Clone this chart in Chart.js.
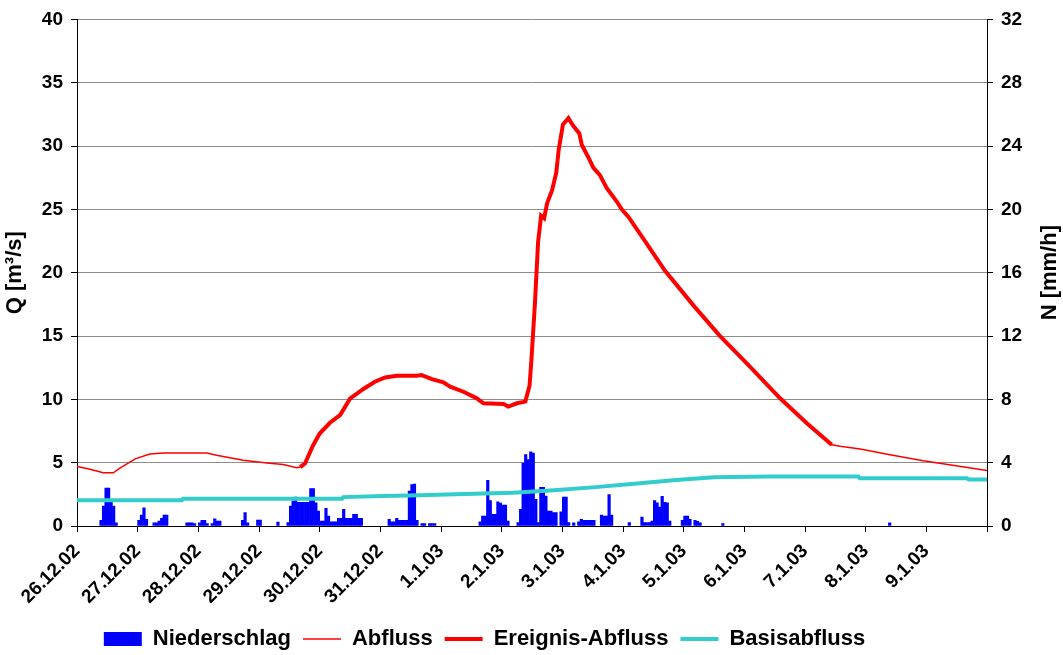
<!DOCTYPE html>
<html>
<head>
<meta charset="utf-8">
<script src="https://cdn.jsdelivr.net/npm/chart.js@4.4.1/dist/chart.umd.min.js"></script>
<style>
  html, body { margin: 0; padding: 0; background: #fff; }
  #wrap { width: 1063px; height: 655px; }
</style>
</head>
<body>
<div id="wrap"><canvas id="chart" width="1063" height="655"></canvas></div>
<script>
// x-Achse: Tage ab 26.12.02 00:00
const dayLabels = ['26.12.02', '27.12.02', '28.12.02', '29.12.02', '30.12.02', '31.12.02',
    '1.1.03', '2.1.03', '3.1.03', '4.1.03', '5.1.03', '6.1.03', '7.1.03', '8.1.03', '9.1.03', ''];

// Abfluss Q [m³/s]
const flowDays = [0, 0.2, 0.43, 0.6, 0.7, 0.96, 1.2, 1.42, 2.14, 2.3,
    2.74, 3.13, 3.4, 3.62, 3.68, 3.76, 3.87, 3.9, 4.0, 4.17,
    4.34, 4.5, 4.72, 4.91, 5.08, 5.27, 5.6, 5.68, 5.85, 6.04,
    6.15, 6.37, 6.59, 6.7, 7.03, 7.11, 7.25, 7.39, 7.46, 7.49,
    7.55, 7.6, 7.65, 7.7, 7.75, 7.83, 7.9, 7.94, 8.01, 8.1,
    8.18, 8.28, 8.32, 8.43, 8.51, 8.62, 8.73, 8.9, 8.98, 9.09,
    9.34, 9.69, 10.16, 10.6, 11.04, 11.59, 12.03, 12.44, 12.58, 12.91,
    13.4, 13.95, 15];
const flowQ = [4.7, 4.5, 4.2, 4.2, 4.55, 5.3, 5.68, 5.76, 5.76, 5.58,
    5.19, 4.98, 4.85, 4.6, 4.65, 4.95, 6.15, 6.44, 7.3, 8.15,
    8.78, 10.05, 10.82, 11.39, 11.73, 11.87, 11.87, 11.92, 11.6, 11.34,
    11.0, 10.6, 10.08, 9.69, 9.64, 9.43, 9.69, 9.82, 11.1, 13.1,
    17.7, 22.4, 24.5, 24.3, 25.5, 26.5, 27.9, 29.7, 31.7, 32.2,
    31.6, 31.0, 30.1, 29.1, 28.3, 27.7, 26.7, 25.6, 25.0, 24.4,
    22.66, 20.17, 17.42, 15.0, 12.84, 10.08, 8.12, 6.42, 6.29, 6.08,
    5.63, 5.16, 4.38];

// Ereignis-Abfluss = Abfluss innerhalb des Ereigniszeitraums
const eventStart = 3.66;
const eventEnd = 12.45;

// Basisabfluss Q [m³/s]
const baseDays = [0, 1.73, 1.75, 4.37, 4.39, 5.05, 5.66, 6.23, 7.19, 7.8, 8.5,
    9.28, 9.83, 10.1, 10.5, 11.4, 12.88, 12.9, 14.67, 14.7, 15];
const baseQ = [2.04, 2.04, 2.15, 2.15, 2.28, 2.36, 2.43, 2.5, 2.62, 2.8, 3.05,
    3.38, 3.61, 3.72, 3.84, 3.9, 3.9, 3.77, 3.77, 3.67, 3.67];

// Niederschlag N [mm/h], Stunde ab 26.12.02 00:00
const rainHours = [9, 10, 11, 12, 13, 14, 15,
    24, 25, 26, 27, 30, 31, 32, 33, 34, 35,
    43, 44, 45, 46, 48, 49, 50, 51, 53, 54, 55, 56,
    65, 66, 67, 71, 72, 79,
    83, 84, 85, 86, 87, 88, 89, 90, 91, 92, 93, 94, 95, 96, 97, 98, 99,
    100, 101, 102, 103, 104, 105, 106, 107, 108, 109, 110, 111, 112,
    123, 124, 125, 126, 127, 128, 129, 130, 131, 132, 133, 134, 136, 137, 139, 140, 141,
    159, 160, 161, 162, 163, 164, 165, 166, 167, 168, 169, 170,
    174, 175, 176, 177, 178, 179, 180, 181, 182, 183, 184, 185, 186, 187, 188, 189,
    191, 192, 193, 194, 196, 198, 199, 200, 201, 202, 203, 204,
    207, 208, 209, 210, 211, 218, 223,
    224, 225, 226, 227, 228, 229, 230, 231, 232, 233, 234,
    239, 240, 241, 242, 244, 245, 246, 255, 321];
const rainN = [0.36, 1.26, 2.4, 2.4, 1.57, 1.26, 0.2,
    0.36, 0.69, 1.15, 0.42, 0.2, 0.2, 0.31, 0.48, 0.69, 0.69,
    0.2, 0.2, 0.2, 0.15, 0.2, 0.36, 0.36, 0.15, 0.15, 0.46, 0.31, 0.31,
    0.36, 0.84, 0.2, 0.38, 0.38, 0.25,
    0.21, 1.26, 1.57, 1.82, 1.5, 1.5, 1.5, 1.5, 1.5, 2.37, 2.37, 1.47, 0.94, 0.31, 0.31, 1.11, 0.63,
    0.27, 0.27, 0.27, 0.48, 0.48, 1.05, 0.48, 0.48, 0.48, 0.73, 0.73, 0.48, 0.48,
    0.42, 0.27, 0.27, 0.48, 0.36, 0.36, 0.36, 0.36, 2.2, 2.62, 2.65, 0.36, 0.15, 0.15, 0.15, 0.15, 0.15,
    0.27, 0.63, 0.63, 2.89, 1.61, 0.73, 0.73, 1.53, 1.45, 1.32, 1.32, 0.31,
    0.21, 1.05, 3.98, 4.51, 4.2, 4.68, 4.6, 1.68, 0.21, 2.45, 2.45, 1.89, 0.94, 0.94, 0.84, 0.84,
    0.9, 1.82, 1.82, 0.21, 0.2, 0.27, 0.42, 0.36, 0.36, 0.36, 0.36, 0.36,
    0.69, 0.63, 0.63, 1.99, 0.69, 0.21, 0.57,
    0.21, 0.21, 0.21, 0.31, 1.61, 1.47, 1.2, 1.88, 1.5, 1.47, 0.31,
    0.36, 0.63, 0.63, 0.42, 0.36, 0.3, 0.2, 0.15, 0.2];

const FONT = '"Liberation Sans", Arial, sans-serif';

function points(xs, ys) {
    return xs.map((x, i) => ({ x: x, y: ys[i] }));
}

const flowPoints = points(flowDays, flowQ);
const eventPoints = flowPoints.filter(p => p.x >= eventStart && p.x <= eventEnd);
const rainPoints = rainHours.map((h, i) => ({ x: (h + 0.5) / 24, y: rainN[i] }));

// rechter Achsentitel, von unten nach oben gelesen wie in Excel
const rightTitle = {
    id: 'rightTitle',
    afterDraw(chart) {
        const ctx = chart.ctx;
        const s = chart.scales.yN;
        ctx.save();
        ctx.translate(s.right - 13, (s.top + s.bottom) / 2);
        ctx.rotate(-Math.PI / 2);
        ctx.font = 'bold 22px ' + FONT;
        ctx.fillStyle = '#000';
        ctx.textAlign = 'center';
        ctx.textBaseline = 'middle';
        ctx.fillText('N [mm/h]', 0, 0);
        ctx.restore();
    }
};

// Legende sitzt im Original etwas links von der Mitte und tiefer
const legendShift = {
    id: 'legendShift',
    afterLayout(chart) {
        chart.legend.left -= 47;
        chart.legend.right -= 47;
        chart.legend.top += 5;
        chart.legend.bottom += 5;
    }
};

new Chart(document.getElementById('chart'), {
    type: 'bar',
    data: {
        datasets: [{
            type: 'bar',
            label: 'Niederschlag',
            data: rainPoints,
            yAxisID: 'yN',
            backgroundColor: '#0000FF',
            borderWidth: 0,
            barPercentage: 1,
            categoryPercentage: 1,
            order: 1
        }, {
            type: 'line',
            label: 'Abfluss',
            data: flowPoints,
            yAxisID: 'y',
            borderColor: '#FF0000',
            borderWidth: 1.5,
            pointRadius: 0,
            order: 0
        }, {
            type: 'line',
            label: 'Ereignis-Abfluss',
            data: eventPoints,
            yAxisID: 'y',
            borderColor: '#FF0000',
            borderWidth: 4,
            pointRadius: 0,
            order: 0
        }, {
            type: 'line',
            label: 'Basisabfluss',
            data: points(baseDays, baseQ),
            yAxisID: 'y',
            borderColor: '#33CCCC',
            borderWidth: 4,
            pointRadius: 0,
            order: 0
        }]
    },
    options: {
        responsive: false,
        animation: false,
        layout: { padding: { top: 11, left: 0, right: 0, bottom: 0 } },
        plugins: {
            tooltip: { enabled: false },
            legend: {
                position: 'bottom',
                labels: {
                    color: '#000',
                    font: { family: FONT, size: 22, weight: 'bold' },
                    usePointStyle: true,
                    pointStyleWidth: 38,
                    boxHeight: 14,
                    padding: 12,
                    sort: (a, b) => a.datasetIndex - b.datasetIndex,
                    generateLabels(chart) {
                        return chart.data.datasets.map((ds, i) => {
                            const isLine = ds.type === 'line';
                            return {
                                text: ds.label,
                                datasetIndex: i,
                                fontColor: '#000',
                                fillStyle: isLine ? ds.borderColor : ds.backgroundColor,
                                strokeStyle: isLine ? ds.borderColor : ds.backgroundColor,
                                lineWidth: isLine ? ds.borderWidth : 0,
                                pointStyle: isLine ? 'line' : 'rect',
                                hidden: false
                            };
                        });
                    }
                }
            }
        },
        scales: {
            x: {
                type: 'linear',
                min: 0,
                max: 15,
                offset: false,
                afterFit: (scale) => { scale.height = 85; },
                ticks: {
                    stepSize: 1,
                    autoSkip: false,
                    maxRotation: 45,
                    minRotation: 45,
                    color: '#000',
                    padding: 8,
                    font: { family: FONT, size: 19, weight: 'bold' },
                    callback: (v) => dayLabels[v] !== undefined ? dayLabels[v] : ''
                },
                grid: { offset: false, drawOnChartArea: false, tickLength: 6, tickColor: '#000' },
                border: { color: '#000', width: 1 }
            },
            y: {
                position: 'left',
                min: 0,
                max: 40,
                afterFit: (scale) => { scale.width = 77; },
                ticks: {
                    stepSize: 5,
                    color: '#000',
                    padding: 8,
                    font: { family: FONT, size: 19, weight: 'bold' }
                },
                grid: { color: '#8c8c8c', tickColor: '#000', tickLength: 6 },
                border: { color: '#000', width: 1 },
                title: {
                    display: true,
                    text: 'Q [m³/s]',
                    color: '#000',
                    padding: { top: 2, bottom: 0 },
                    font: { family: FONT, size: 22, weight: 'bold' }
                }
            },
            yN: {
                position: 'right',
                min: 0,
                max: 32,
                afterFit: (scale) => { scale.width = 76; },
                ticks: {
                    stepSize: 4,
                    color: '#000',
                    padding: 8,
                    font: { family: FONT, size: 19, weight: 'bold' }
                },
                grid: { drawOnChartArea: false, tickColor: '#000', tickLength: 6 },
                border: { color: '#000', width: 1 }
            }
        }
    },
    plugins: [rightTitle, legendShift]
});
</script>
</body>
</html>
